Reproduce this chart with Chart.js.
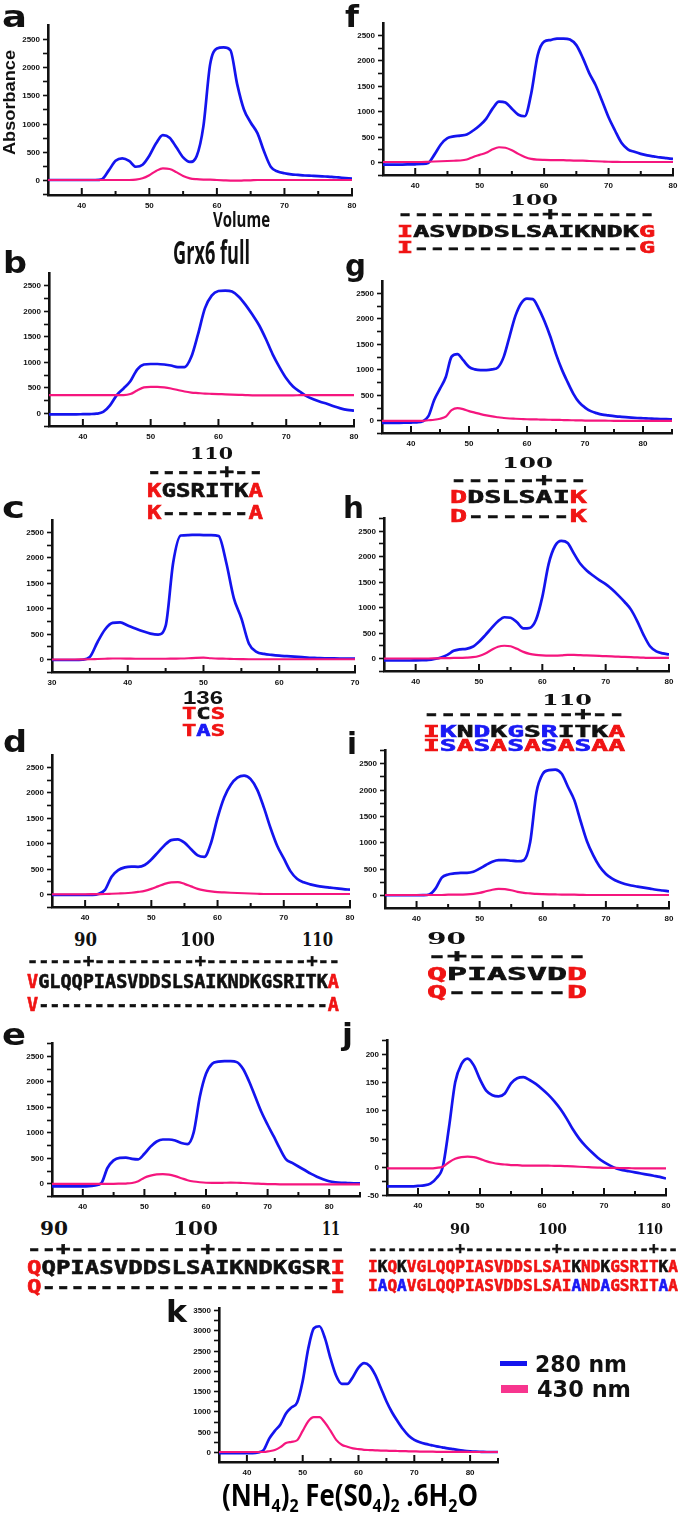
<!DOCTYPE html>
<html>
<head>
<meta charset="utf-8">
<script src="https://cdn.jsdelivr.net/npm/chart.js@4.4.1/dist/chart.umd.min.js"></script>
<style>
  html, body { margin: 0; padding: 0; background: #fff; }
  body { width: 685px; height: 1515px; position: relative; overflow: hidden; }
  .t { position: absolute; white-space: pre; font-weight: bold; transform-origin: 0 50%; }
  .mono { -webkit-text-stroke: 0.6px currentColor; }
  .p { position: absolute; }
  .sub { position: relative; top: 0.32em; font-size: 0.62em; }
</style>
</head>
<body>
<script>
// --- elution volumes (x)
const vol35to80 = [35,36,37,38,39,40,41,42,43,44,45,46,47,48,49,50,51,52,53,54,55,56,57,58,59,60,61,62,63,64,65,66,67,68,69,70,71,72,73,74,75,76,77,78,79,80];
const vol35to85 = [35,36,37,38,39,40,41,42,43,44,45,46,47,48,49,50,51,52,53,54,55,56,57,58,59,60,61,62,63,64,65,66,67,68,69,70,71,72,73,74,75,76,77,78,79,80,81,82,83,84,85];
const vol30to70 = [30,31,32,33,34,35,36,37,38,39,40,41,42,43,44,45,46,47,48,49,50,51,52,53,54,55,56,57,58,59,60,61,62,63,64,65,66,67,68,69,70];

// --- absorbance at 280 nm / 430 nm, one pair per panel
const a280 = [0,0,0,0,0,0,0,0,15,170,340,385,340,235,270,430,650,795,750,580,400,320,420,950,2050,2330,2350,2300,1700,1250,1020,830,500,230,150,120,100,90,80,75,70,62,55,45,35,25];
const a430 = [0,0,0,0,0,0,0,0,0,0,0,0,0,5,30,85,160,205,195,140,70,30,15,8,5,0,-5,-10,-12,-8,-5,0,0,0,0,0,0,0,0,0,0,0,0,0,0,0];
const b280 = [-30,-30,-30,-30,-28,-25,-22,-15,20,150,350,480,620,850,950,960,960,950,930,900,900,1100,1550,2050,2300,2390,2400,2380,2280,2120,1930,1720,1450,1150,900,680,520,420,330,270,220,180,130,90,60,45];
const b430 = [350,350,350,350,350,350,350,350,350,350,350,350,370,440,500,510,510,500,480,450,420,400,390,380,375,370,365,360,355,350,345,345,345,345,345,345,345,348,350,350,350,350,350,350,350,350];
const c280 = [-20,-20,-20,-20,-15,40,330,580,710,720,660,600,545,500,480,650,1900,2430,2440,2445,2440,2440,2420,1900,1200,800,300,140,100,80,65,55,45,35,25,20,15,12,10,10,10];
const c430 = [-10,-10,-10,-10,-8,-5,0,5,10,10,8,5,5,5,5,5,8,10,15,22,25,15,8,5,0,-3,-5,-5,-5,-5,-5,-5,-5,-5,-5,-5,-5,-5,-5,-5,-5];
const d280 = [-20,-20,-20,-20,-20,-20,-18,0,80,340,470,525,540,535,570,680,820,960,1060,1075,1010,880,760,730,1000,1500,1900,2150,2290,2330,2260,2050,1700,1300,950,700,450,300,230,190,160,140,125,110,95,85];
const d430 = [-5,-5,-5,-5,-5,-5,-4,-2,0,5,10,15,25,40,60,100,150,200,230,235,200,150,100,70,50,35,30,25,20,15,10,5,0,0,0,0,0,0,0,0,0,0,0,0,0,0];
const e280 = [-60,-60,-60,-60,-60,-60,-55,-40,0,300,450,500,505,480,470,580,720,820,860,860,840,790,770,1000,1700,2150,2350,2390,2400,2400,2380,2250,2000,1700,1400,1150,920,680,470,400,330,260,190,130,80,40,20,10,5,0,0];
const e430 = [-10,-10,-10,-10,-10,-10,-10,-10,-10,-10,-10,-8,-5,5,40,110,150,175,180,170,140,100,60,35,20,10,8,8,10,12,10,5,0,-5,-10,-15,-18,-20,-20,-20,-20,-20,-20,-20,-20,-20,-20,-20,-20,-20,-20];
const f280 = [-50,-50,-50,-50,-48,-45,-40,-20,150,350,470,505,520,540,620,720,850,1050,1190,1170,1050,930,900,1350,2100,2370,2400,2430,2430,2410,2300,2050,1750,1510,1200,880,620,380,250,200,160,130,110,90,75,60];
const f430 = [0,0,0,0,0,0,0,5,10,15,20,25,30,50,100,140,180,250,290,280,230,160,100,60,45,40,38,38,35,30,28,25,20,15,10,5,3,0,0,0,0,0,0,0,0,0];
const g280 = [-50,-50,-50,-50,-48,-45,-40,-20,80,400,620,850,1250,1300,1180,1050,1000,985,985,1000,1040,1250,1650,2050,2300,2390,2380,2200,1950,1650,1300,1000,750,520,350,250,180,140,110,95,80,70,60,52,45,40,35,30,25,22,20];
const g430 = [-10,-10,-10,-10,-10,-10,-10,-10,0,10,30,70,200,240,220,180,150,120,95,75,60,45,35,30,25,20,18,15,12,10,8,5,2,0,-2,-5,-6,-7,-8,-9,-10,-10,-10,-10,-10,-10,-10,-10,-10,-10,-10];
const h280 = [-50,-50,-50,-50,-50,-48,-45,-40,-20,10,60,140,170,180,220,320,450,590,720,800,790,700,580,590,750,1200,1850,2200,2300,2260,2050,1850,1720,1620,1530,1450,1350,1230,1100,950,720,450,230,130,90,70];
const h430 = [-10,-10,-10,-10,-10,-10,-10,-10,-8,-5,-3,0,0,5,15,40,90,160,220,240,230,180,120,80,60,50,45,45,50,60,60,55,50,45,40,35,30,25,20,15,10,5,0,0,0,0];
const i280 = [-5,-5,-5,-5,-5,-5,-3,10,120,330,390,410,420,420,440,500,570,630,660,660,650,640,660,1000,1950,2300,2370,2380,2300,2050,1800,1400,1020,750,540,400,310,250,210,180,160,140,120,100,85,70];
const i430 = [0,0,0,0,0,0,0,0,0,0,5,5,8,10,20,40,70,100,115,110,90,60,40,30,20,15,12,10,8,5,5,3,0,0,0,0,0,0,0,0,0,0,0,0,0,0];
const j280 = [-35,-35,-35,-35,-35,-34,-33,-30,-20,0,70,150,182,192,180,155,135,127,125,130,148,157,159,154,147,138,128,116,102,85,66,50,37,26,16,8,2,-3,-6,-8,-10,-12,-14,-16,-18,-21];
const j430 = [-3,-3,-3,-3,-3,-3,-3,-3,-2,0,8,14,17,18,17,14,10,7,5,4,3,3,2,2,2,2,2,1.5,1.5,1,0.5,0,-0.5,-1,-1.5,-2,-2,-2,-2.5,-2.5,-3,-3,-3,-3,-3,-3];
const k280 = [-25,-25,-25,-25,-25,-25,-25,-10,50,330,520,680,950,1100,1220,1750,2550,3050,3100,2800,2300,1880,1680,1680,1850,2080,2190,2120,1900,1580,1250,980,760,560,400,300,240,200,170,140,115,90,70,50,30,18,10,5,0,0,0];
const k430 = [0,0,0,0,0,0,0,0,0,20,50,120,220,250,290,520,760,860,860,720,520,300,180,130,90,70,55,48,42,35,32,28,25,22,18,15,12,10,8,6,5,4,3,2,2,1,0,0,0,0,0];

// --- sequence alignments under the panels
const seqB = ['KGSRITKA', 'K------A'];
const seqC = ['TCS', 'TAS'];
const seqD = ['VGLQQPIASVDDSLSAIKNDKGSRITKA', 'V--------------------------A'];
const seqE = ['QQPIASVDDSLSAIKNDKGSRI', 'Q--------------------I'];
const seqF = ['IASVDDSLSAIKNDKG', 'I--------------G'];
const seqG = ['DDSLSAIK', 'D------K'];
const seqH = ['IKNDKGSRITKA', 'ISASASASASAA'];
const seqI = ['QPIASVDD', 'Q------D'];
const seqJ = ['IKQKVGLQQPIASVDDSLSAIKNDKGSRITKA', 'IAQAVGLQQPIASVDDSLSAIANDAGSRITAA'];

const INK = '#111111';
const BLUE = '#1414ee';
const PINK = '#f5167e';
const COL = { r: '#f01414', b: '#1a1af5', k: INK };

const SANS = '"DejaVu Sans", sans-serif';
const MONO = '"DejaVu Sans Mono", monospace';
const SERIF = '"DejaVu Serif", serif';
const LIB = '"Liberation Sans", Arial, sans-serif';
const OPEN = '"Open Sans", sans-serif';

// tick marks: x ticks point inward, y ticks outward with a label every other tick
const axisMarks = {
  id: 'axisMarks',
  afterDraw(chart, args, opts) {
    const { ctx, chartArea } = chart;
    const x = chart.scales.x, y = chart.scales.y;
    ctx.save();
    ctx.strokeStyle = INK;
    ctx.fillStyle = INK;
    ctx.lineWidth = 2;
    for (let v = Math.ceil(x.min / 5) * 5; v <= x.max + 1e-6; v += 5) {
      const px = x.getPixelForValue(v);
      const len = v % 10 === 0 ? 7 : 4;
      ctx.beginPath();
      ctx.moveTo(px, chartArea.bottom);
      ctx.lineTo(px, chartArea.bottom - len);
      ctx.stroke();
    }
    ctx.font = 'bold 8px "Liberation Sans", Arial, sans-serif';
    ctx.textAlign = 'right';
    ctx.textBaseline = 'middle';
    ctx.lineWidth = 1.6;
    for (let v = Math.ceil(y.min / opts.ystep) * opts.ystep; v <= y.max + 1e-6; v += opts.ystep) {
      const py = Math.round(y.getPixelForValue(v)) + 0.5;
      ctx.beginPath();
      ctx.moveTo(chartArea.left, py);
      ctx.lineTo(chartArea.left - 5, py);
      ctx.stroke();
      if (Math.round(v) % opts.ylab === 0) ctx.fillText(String(Math.round(v)), chartArea.left - 8, py);
    }
    ctx.restore();
  }
};

const TICKFONT = { family: '"Liberation Sans", Arial, sans-serif', size: 8, weight: 'bold' };
const YW = 34, XH = 20, PT = 10, PR = 14;

function config(p) {
  return {
    type: 'line',
    data: {
      datasets: [
        { data: p.x.map((v, i) => ({ x: v, y: p.pink[i] })), borderColor: PINK, borderWidth: 2.2 },
        { data: p.x.map((v, i) => ({ x: v, y: p.blue[i] })), borderColor: BLUE, borderWidth: 2.7 }
      ]
    },
    options: {
      responsive: false,
      animation: false,
      events: [],
      layout: { padding: { top: PT, right: PR, left: 0, bottom: 0 } },
      elements: { point: { radius: 0 }, line: { cubicInterpolationMode: 'monotone', fill: false } },
      plugins: {
        legend: { display: false },
        tooltip: { enabled: false },
        axisMarks: { ystep: p.ystep, ylab: p.ylab }
      },
      scales: {
        x: {
          type: 'linear', min: p.xmin, max: p.xmax, bounds: 'data',
          grid: { display: false, drawTicks: false },
          border: { display: true, color: INK, width: 2.6 },
          ticks: {
            stepSize: 5, autoSkip: false, maxRotation: 0, includeBounds: false, padding: 6,
            color: INK, font: TICKFONT,
            callback: v => (v % 10 === 0 ? String(v) : '')
          },
          afterFit: s => { s.height = XH; }
        },
        y: {
          min: p.ymin, max: p.ymax, bounds: 'data',
          grid: { display: false, drawTicks: false },
          border: { display: true, color: INK, width: 2.6 },
          ticks: { display: false },
          afterFit: s => { s.width = YW; }
        }
      }
    },
    plugins: [axisMarks]
  };
}

function makeChart(p) {
  const [l, r, t, b] = p.box;
  const wrap = document.createElement('div');
  wrap.className = 'p';
  const cv = document.createElement('canvas');
  wrap.appendChild(cv);
  document.body.appendChild(wrap);
  let W = Math.round(r - l) + YW + PR, H = Math.round(b - t) + PT + XH;
  let chart = null;
  for (let pass = 0; pass < 3; pass++) {
    if (chart) chart.destroy();
    cv.width = W; cv.height = H;
    cv.style.width = W + 'px'; cv.style.height = H + 'px';
    chart = new Chart(cv, config(p));
    const ca = chart.chartArea;
    const dw = (r - l) - (ca.right - ca.left), dh = (b - t) - (ca.bottom - ca.top);
    if (Math.abs(dw) < 0.6 && Math.abs(dh) < 0.6) break;
    W += Math.round(dw); H += Math.round(dh);
  }
  wrap.style.left = (l - chart.chartArea.left) + 'px';
  wrap.style.top = (t - chart.chartArea.top) + 'px';
  return chart;
}

const panels = [
  { x: vol35to80, blue: a280, pink: a430, xmin: 35, xmax: 80, ymin: -266, ymax: 2748, ystep: 250, ylab: 500, box: [48, 352, 25, 195] },
  { x: vol35to80, blue: b280, pink: b430, xmin: 35, xmax: 80, ymin: -256, ymax: 2744, ystep: 250, ylab: 500, box: [49, 353.5, 273, 426] },
  { x: vol30to70, blue: c280, pink: c430, xmin: 30, xmax: 70, ymin: -256, ymax: 2736, ystep: 250, ylab: 500, box: [52, 355, 520, 672] },
  { x: vol35to80, blue: d280, pink: d430, xmin: 35, xmax: 80, ymin: -256, ymax: 2736, ystep: 250, ylab: 500, box: [52, 350, 755, 907] },
  { x: vol35to85, blue: e280, pink: e430, xmin: 35, xmax: 85, ymin: -250, ymax: 2756, ystep: 250, ylab: 500, box: [51.5, 359, 1043, 1196] },
  { x: vol35to80, blue: f280, pink: f430, xmin: 35, xmax: 80, ymin: -256, ymax: 2736, ystep: 250, ylab: 500, box: [383, 673, 23, 175] },
  { x: vol35to85, blue: g280, pink: g430, xmin: 35, xmax: 85, ymin: -250, ymax: 2736, ystep: 250, ylab: 500, box: [382, 672, 281, 433] },
  { x: vol35to80, blue: h280, pink: h430, xmin: 35, xmax: 80, ymin: -256, ymax: 2750, ystep: 250, ylab: 500, box: [383.5, 668, 518, 671] },
  { x: vol35to80, blue: i280, pink: i430, xmin: 35, xmax: 80, ymin: -247, ymax: 2752, ystep: 250, ylab: 500, box: [384.5, 668, 750, 908] },
  { x: vol35to80, blue: j280, pink: j430, xmin: 35, xmax: 80, ymin: -50.2, ymax: 225, ystep: 25, ylab: 50, box: [386.7, 666, 1040, 1195] },
  { x: vol35to85, blue: k280, pink: k430, xmin: 35, xmax: 85, ymin: -246, ymax: 3550, ystep: 250, ylab: 500, box: [219, 498, 1308, 1462] }
];
panels.forEach(makeChart);

// --- text helpers
function tint(s, code) {
  const parts = [];
  for (let i = 0; i < s.length; i++) {
    const c = COL[code[i]];
    if (parts.length && parts[parts.length - 1][1] === c) parts[parts.length - 1][0] += s[i];
    else parts.push([s[i], c]);
  }
  return parts;
}
const ends = s => tint(s, 'r' + 'k'.repeat(s.length - 2) + 'r');

function put(parts, x, base, size, family, width, center) {
  const d = document.createElement('div');
  d.className = family === MONO ? 't mono' : 't';
  d.style.fontFamily = family;
  d.style.fontSize = size + 'px';
  d.style.lineHeight = size + 'px';
  if (typeof parts === 'string') parts = [[parts, INK]];
  if (parts.html) d.innerHTML = parts.html;
  else parts.forEach(([s, c]) => {
    const sp = document.createElement('span');
    sp.textContent = s;
    sp.style.color = c;
    d.appendChild(sp);
  });
  document.body.appendChild(d);
  const nat = d.getBoundingClientRect().width;
  const sx = width ? width / nat : 1;
  d.style.left = (center ? x - nat * sx / 2 : x) + 'px';
  d.style.top = (base - (family === OPEN ? 0.888 : 0.846) * size) + 'px';
  d.style.transform = 'scaleX(' + sx + ')';
  return d;
}

// panel letters
put('a', 2, 27, 30, SANS, 25);
put('b', 3, 273, 30, SANS, 24);
put('c', 2, 518, 30, SANS, 23);
put('d', 3, 752, 30, SANS, 24);
put('e', 2, 1045, 30, SANS, 24);
put('f', 345, 27, 30, SANS, 14);
put('g', 345, 276, 30, SANS, 21);
put('h', 343, 518, 30, SANS, 21);
put('i', 347, 754, 30, SANS, 10);
put('j', 342, 1045, 30, SANS, 11);
put('k', 166, 1322, 30, SANS, 21);

// panel a titles
const ab = document.createElement('div');
ab.className = 't';
ab.style.fontFamily = LIB;
ab.style.fontSize = '17px';
ab.style.lineHeight = '17px';
ab.style.color = INK;
ab.textContent = 'Absorbance';
document.body.appendChild(ab);
const abW = ab.getBoundingClientRect().width;
ab.style.left = (9 - abW / 2) + 'px';
ab.style.top = (102 - 8.5) + 'px';
ab.style.transformOrigin = '50% 50%';
ab.style.transform = 'rotate(-90deg) scaleX(' + (105 / abW) + ')';

put('Volume', 213, 228, 21, OPEN, 57);
put('Grx6 full', 173, 264, 32, OPEN, 77);

// f
put('100', 534, 205.5, 15, SERIF, 48, true);
put('---------+------', 397, 220, 18, MONO, 258);
put(ends(seqF[0]), 397, 237.5, 15, MONO, 258);
put(ends(seqF[1]), 397, 253.5, 15, MONO, 258);
// b
put('110', 211.5, 459, 17, SERIF, 43, true);
put('-----+--', 147, 478, 20, MONO, 116);
put(ends(seqB[0]), 147, 497, 19, MONO, 116);
put(ends(seqB[1]), 147, 519, 19, MONO, 116);
// g
put('100', 527.5, 468.5, 15, SERIF, 51, true);
put('-----+--', 450, 486, 18, MONO, 137);
put(ends(seqG[0]), 450, 503, 18, MONO, 137);
put(ends(seqG[1]), 450, 522, 18, MONO, 137);
// c
put('136', 203, 704.5, 18, LIB, 40, true);
put(tint(seqC[0], 'rkr'), 182, 720, 16, MONO, 43);
put(tint(seqC[1], 'rbr'), 182, 737, 16, MONO, 43);
// h
put('110', 567, 705.5, 15, SERIF, 50, true);
put('---------+--', 423, 720, 18, MONO, 202);
put(tint(seqH[0], 'rbkbkbkbkkkr'), 423, 738, 16, MONO, 202);
put(tint(seqH[1], 'rbrbrbrbrbrr'), 423, 752, 16, MONO, 202);
// i
put('90', 446.5, 944, 17, SERIF, 39, true);
put('-+------', 427, 962, 18, MONO, 160);
put(ends(seqI[0]), 427, 980, 18, MONO, 160);
put(ends(seqI[1]), 427, 998, 18, MONO, 160);
// d
put('90', 85.5, 946.5, 18, SERIF, 23, true);
put('100', 197.5, 946.5, 18, SERIF, 35, true);
put('110', 317.5, 946.5, 18, SERIF, 31, true);
put('-----+---------+---------+--', 27, 967, 18, MONO, 313);
put(ends(seqD[0]), 27, 988, 19, MONO, 312);
put(ends(seqD[1]), 27, 1011, 19, MONO, 312);
// e
put('90', 54, 1235.5, 18, SERIF, 28, true);
put('100', 195.5, 1235.5, 18, SERIF, 45, true);
put('11', 322, 1235.5, 18, SERIF, 18);
put('--+---------+---------', 27, 1255, 18, MONO, 318);
put(ends(seqE[0]), 27, 1274, 20, MONO, 318);
put(ends(seqE[1]), 27, 1293, 20, MONO, 318);
// j
put('90', 460, 1234.5, 15, SERIF, 20, true);
put('100', 552.5, 1234.5, 15, SERIF, 29, true);
put('110', 650, 1234.5, 15, SERIF, 26, true);
put('---------+---------+---------+--', 368, 1255, 16, MONO, 310);
put(tint(seqJ[0], 'rkrkrrrrrrrrrrrrrrrrrkrrkrrrrrkr'), 368, 1273, 16, MONO, 310);
put(tint(seqJ[1], 'rbrbrrrrrrrrrrrrrrrrrbrrbrrrrrbr'), 368, 1292, 16, MONO, 310);

// k legend and salt label
function bar(x, y, w, h, c) {
  const d = document.createElement('div');
  d.style.cssText = `position:absolute;left:${x}px;top:${y}px;width:${w}px;height:${h}px;background:${c}`;
  document.body.appendChild(d);
}
bar(500, 1360.5, 27, 5, BLUE);
bar(501, 1385, 27, 8, '#f7358e');
put('280 nm', 535, 1372, 23, SANS, 92);
put('430 nm', 537, 1397.5, 23, SANS, 94);
put({ html: '(NH<span class="sub">4</span>)<span class="sub">2</span> Fe(S0<span class="sub">4</span>)<span class="sub">2</span> .6H<span class="sub">2</span>O' },
    222, 1507, 30, OPEN, 256);
</script>
</body>
</html>
